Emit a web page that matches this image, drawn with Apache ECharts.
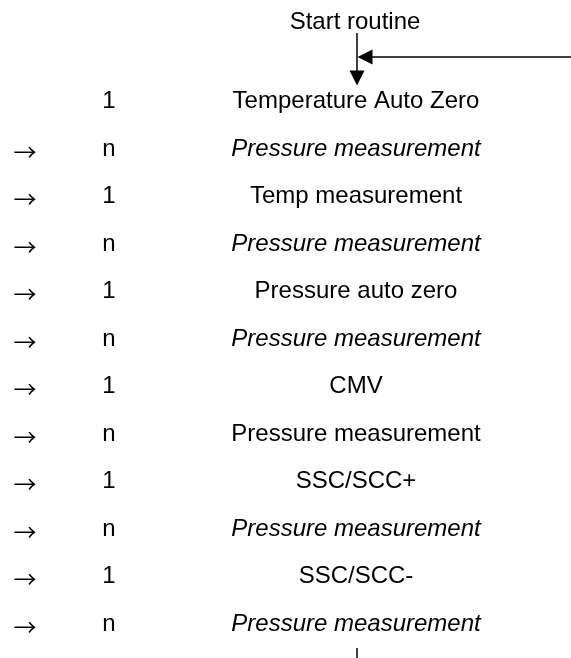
<!DOCTYPE html>
<html>
<head>
<meta charset="utf-8">
<script src="https://cdn.jsdelivr.net/npm/echarts@6/dist/echarts.min.js"></script>
<style>
  html, body { margin: 0; padding: 0; background: #fff; }
  #main { width: 571px; height: 658px; }
</style>
</head>
<body>
<div id="main"></div>
<script>
// routine steps, top to bottom
var steps = ['Temperature Auto Zero', 'Pressure measurement', 'Temp measurement', 'Pressure measurement',
    'Pressure auto zero', 'Pressure measurement', 'CMV', 'Pressure measurement',
    'SSC/SCC+', 'Pressure measurement', 'SSC/SCC-', 'Pressure measurement']
var counts = ['1', 'n', '1', 'n', '1', 'n', '1', 'n', '1', 'n', '1', 'n']
var italic = [false, true, false, true, false, true, false, false, false, true, false, true]
var arrows = [false, true, true, true, true, true, true, true, true, true, true, true]
var startLabel = 'Start routine'

// layout (pixels): first row centre and row pitch
var ROW0 = 101.5
var STEP = 47.5
var W = 571, H = 658
var LINE_X = 357
function row(px) { return (px - ROW0) / STEP }

var rows = []
for (var i = 0; i < steps.length; i++) {
    rows.push([i])
}

var FONT = '"Liberation Sans", Arial, sans-serif'
var SIZE = 24

var myChart = echarts.init(document.getElementById('main'), null, { renderer: 'canvas' })
var option = {
    animation: false,
    grid: { left: 0, right: 0, top: 0, bottom: 0 },
    xAxis: { type: 'value', min: 0, max: W, show: false },
    yAxis: { type: 'value', min: row(0), max: row(H), inverse: true, show: false },
    series: [
        {
            type: 'custom',
            data: rows,
            renderItem: function (params, api) {
                var r = api.value(0)
                var idx = params.dataIndex
                var pLabel = api.coord([356, r])
                var pCount = api.coord([109, r])
                var pArrow = api.coord([25, r])
                var children = [
                    {
                        type: 'text',
                        style: {
                            x: pLabel[0], y: pLabel[1], text: steps[idx],
                            font: (italic[idx] ? 'italic ' : '') + SIZE + 'px ' + FONT,
                            fill: '#000', align: 'center', verticalAlign: 'middle'
                        }
                    },
                    {
                        type: 'text',
                        style: {
                            x: pCount[0], y: pCount[1], text: counts[idx],
                            font: SIZE + 'px ' + FONT,
                            fill: '#000', align: 'center', verticalAlign: 'middle'
                        }
                    }
                ]
                if (arrows[idx]) {
                    children.push({
                        type: 'text',
                        style: {
                            x: pArrow[0], y: pArrow[1] + 3, text: '\u2192',
                            font: '23px "Noto Sans CJK SC", sans-serif',
                            fill: '#000', align: 'center', verticalAlign: 'middle'
                        }
                    })
                }
                return { type: 'group', children: children }
            }
        },
        {
            type: 'custom',
            data: [[355, row(22)]],
            renderItem: function (params, api) {
                var p = api.coord([api.value(0), api.value(1)])
                return {
                    type: 'text',
                    style: {
                        x: p[0], y: p[1], text: startLabel,
                        font: SIZE + 'px ' + FONT, fill: '#000',
                        align: 'center', verticalAlign: 'middle'
                    }
                }
            }
        },
        {
            type: 'lines',
            coordinateSystem: 'cartesian2d',
            symbol: ['none', 'triangle'],
            symbolSize: [14, 15],
            lineStyle: { color: '#000', width: 1.5, opacity: 1 },
            itemStyle: { color: '#000' },
            data: [
                { coords: [[LINE_X, row(33)], [LINE_X, row(78)]] },
                { coords: [[W, row(57)], [LINE_X + 8, row(57)]] }
            ]
        },
        {
            type: 'lines',
            coordinateSystem: 'cartesian2d',
            symbol: 'none',
            lineStyle: { color: '#000', width: 1.5, opacity: 1 },
            data: [
                { coords: [[LINE_X, row(648)], [LINE_X, row(H)]] }
            ]
        }
    ]
}
myChart.setOption(option)
</script>
</body>
</html>
